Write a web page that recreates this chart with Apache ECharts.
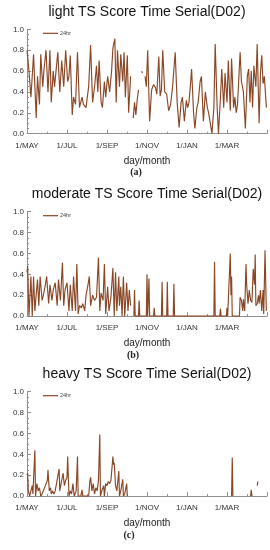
<!DOCTYPE html>
<html>
<head>
<meta charset="utf-8">
<script src="https://cdn.jsdelivr.net/npm/echarts@6/dist/echarts.min.js"></script>
<style>html,body{margin:0;padding:0;background:#fff;}#c{width:270px;height:550px;}</style>
</head>
<body>
<div id="c"></div>
<script>
// ---- data (day index counted from 1 May) ----
const monthLabels = ['1/MAY','1/JUL','1/SEP','1/NOV','1/JAN','1/MAR'];
const panelTitles = ['light TS Score Time Serial(D02)','moderate TS Score Time Serial(D02)','heavy TS Score Time Serial(D02)'];
const panelTags = ['(a)','(b)','(c)'];
const seriesName = '24hr';

const lightDays = [0,3,6,10,14,16,19,21,24,26,29,32,35,37,40,42,45,47,50,53,56,59,62,64,66,69,71,74,77,80,82,84,86,90,94,97,100,103,106,108,110,113,115,118,120,123,126,129,131,134,136,138,141,143,146,148,150,153,155,158,159,162,164,166,168,170,171,175,176,177,180,182,184,187,190,193,196,198,201,203,205,207,210,213,216,219,222,226,229,232,235,237,240,243,245,247,249,251,254,256,259,261,264,266,269,272,275,277,280,282,285,287,290,292,295,297,300,302,305,307,310,312,315,317,319,321,325,327,330,333,336,338,340,342,344,346,349,351,354,356,358,360,362,365];
const lightVals = [0.80,0.60,0.35,0.76,0.15,0.55,0.28,0.76,0.45,0.62,0.80,0.40,0.80,0.30,0.60,0.45,0.65,0.78,0.40,0.70,0.45,0.80,0.50,0.55,0.75,0.18,0.35,0.28,0.78,0.25,0.30,0.35,0.28,0.25,0.45,0.85,0.30,0.45,0.65,0.40,0.70,0.30,0.25,0.50,0.35,0.55,0.40,0.60,0.82,0.91,0.30,0.80,0.45,0.76,0.50,0.78,0.35,0.75,0.20,0.55,null,0.15,0.30,0.18,0.32,0.42,null,0.60,0.58,null,0.55,0.45,0.80,0.12,0.42,0.47,0.44,0.38,0.74,0.36,0.42,0.80,0.40,0.38,0.22,0.28,0.45,0.78,0.30,0.06,0.30,0.35,0.12,0.32,0.25,0.30,0.45,0.62,0.20,0.05,0.25,0.30,0.50,0.55,0.12,0.40,0.25,0.20,0.08,0.00,0.25,0.86,0.25,0.00,0.35,0.62,0.25,0.58,0.30,0.70,0.22,0.72,0.25,0.35,0.20,0.28,0.78,0.50,0.40,0.05,0.55,0.62,0.30,0.60,0.25,0.65,0.45,0.86,0.10,0.58,0.75,0.48,0.55,0.25];

const modDays = [0,1,3,6,8,10,12,15,16,18,20,23,25,28,30,33,35,38,40,43,46,48,51,54,56,58,61,64,66,69,71,74,76,78,80,83,85,88,90,93,95,97,100,103,106,109,111,113,116,118,120,123,125,128,131,133,135,137,140,141,143,145,147,149,152,154,156,158,159,163,164,165,170,171,172,182,183,184,186,187,193,194,195,205,206,207,213,214,215,223,224,225,285,286,287,294,295,296,304,305,306,309,310,311,312,313,324,325,327,329,330,332,334,335,337,339,341,343,345,347,348,349,351,353,354,356,358,360,361,363,365];
const modVals = [0.42,0.48,0.00,0.38,0.00,0.38,0.05,0.28,0.35,0.10,0.38,0.15,0.20,0.30,0.38,0.12,0.30,0.15,0.25,0.32,0.10,0.35,0.15,0.51,0.10,0.25,0.32,0.05,0.30,0.05,0.38,0.05,0.50,0.02,0.10,0.08,0.12,0.05,0.20,0.30,0.38,0.10,0.20,0.15,0.18,0.56,0.05,0.22,0.15,0.50,0.02,0.28,0.05,0.18,0.46,0.00,0.42,0.05,0.38,0.10,0.28,0.00,0.38,0.00,0.32,0.05,0.25,0.10,null,0.00,0.25,0.00,0.00,0.15,0.00,0.00,0.40,0.00,0.36,0.00,0.00,0.08,0.00,0.00,0.33,0.00,0.00,0.33,0.00,0.00,0.31,0.00,0.00,0.52,0.00,0.00,0.07,0.00,0.00,0.08,0.00,0.00,0.60,0.20,0.38,0.00,0.00,0.18,0.15,0.05,0.16,0.05,0.50,0.30,0.12,0.25,0.15,0.13,0.45,0.30,0.59,0.10,0.12,0.20,0.12,0.25,0.05,0.25,0.02,0.63,0.05];

const heavyDays = [0,1,2,4,8,9,12,13,15,17,19,21,23,26,28,31,32,34,36,37,39,41,43,46,49,50,52,55,57,59,61,62,64,66,68,70,72,75,77,78,82,84,85,94,96,97,99,101,103,105,107,109,111,112,114,117,118,120,122,124,126,128,131,132,133,135,137,140,141,143,146,147,149,152,153,154,312,313,314,315,341,342,343,344,351,352];
const heavyVals = [0.20,0.22,0.05,0.00,0.10,0.02,0.44,0.00,0.12,0.05,0.08,0.00,0.02,0.02,0.10,0.15,0.25,0.05,0.08,0.02,0.05,0.02,0.05,0.05,0.26,0.05,0.12,0.22,0.10,0.15,0.18,0.38,0.00,0.05,0.02,0.12,0.00,0.05,0.38,0.00,0.00,0.06,0.00,0.00,0.15,0.18,0.05,0.12,0.02,0.08,0.05,0.15,0.59,0.00,0.05,0.10,0.00,0.12,0.10,0.14,0.12,0.15,0.38,0.30,0.32,0.10,0.05,0.24,0.00,0.05,0.16,0.00,0.02,0.12,0.00,null,0.00,0.37,0.00,null,0.00,0.06,0.00,null,0.10,0.14];

// ---- layout / style ----
const FONT = '"Liberation Sans", Arial, Helvetica, sans-serif';
const LINE = '#8a4726';
const AXIS = '#8f8f8f';
const gridTops = [29.3, 211.7, 391.7];
const gridH = 104.4;
const tagX = [136, 133, 129];
const panels = [[lightDays, lightVals],[modDays, modVals],[heavyDays, heavyVals]];

function pairs(days, vals){ return days.map((d,i)=>[d, vals[i]===null ? '-' : vals[i]]); }

const option = {
  animation: false,
  backgroundColor: '#fff',
  title: [],
  legend: [],
  grid: [], xAxis: [], yAxis: [], series: []
};

panels.forEach((p, i) => {
  const top = gridTops[i];
  option.grid.push({left: 27, right: 3, top: top, height: gridH});
  option.xAxis.push({
    gridIndex: i, type: 'value', min: 0, max: 366, interval: 61,
    axisLine: {show: true, lineStyle: {color: AXIS, width: 1}},
    axisTick: {show: true, inside: true, length: 4, lineStyle: {color: AXIS}},
    minorTick: {show: true, splitNumber: 2, length: 2, lineStyle: {color: AXIS}},
    splitLine: {show: false},
    axisLabel: {showMaxLabel: false, fontSize: 8, color: '#333', margin: 8, fontFamily: FONT,
      formatter: v => monthLabels[Math.round(v / 61)] || ''}
  });
  option.yAxis.push({
    gridIndex: i, type: 'value', min: 0, max: 1, interval: 0.2,
    axisLine: {show: true, lineStyle: {color: AXIS, width: 1}},
    axisTick: {show: true, inside: true, length: 4, lineStyle: {color: AXIS}},
    minorTick: {show: true, splitNumber: 4, length: 2, lineStyle: {color: AXIS}},
    splitLine: {show: false},
    axisLabel: {fontSize: 8, color: '#333', margin: 3, fontFamily: FONT, formatter: v => v.toFixed(1)}
  });
  option.series.push({
    type: 'line', name: seriesName, xAxisIndex: i, yAxisIndex: i,
    data: pairs(p[0], p[1]), symbol: 'none', connectNulls: false,
    lineStyle: {color: LINE, width: 1.15}, itemStyle: {color: LINE}
  });
  option.legend.push({
    data: [{name: seriesName, icon: 'rect'}], left: 43, top: top + 1, itemWidth: 15, itemHeight: 1.2, padding: 0,
    selectedMode: false, textStyle: {fontSize: 5.5, color: '#444', fontFamily: FONT, padding: [0, 0, 0, -3]}
  });
  option.title.push({
    text: panelTitles[i], left: 147, top: top - 24.5, textAlign: 'center', padding: 0,
    textStyle: {fontSize: 14, fontWeight: 'normal', color: '#111', fontFamily: FONT}
  });
  option.title.push({
    text: 'day/month', left: 147, top: top + gridH + 22.5, textAlign: 'center', padding: 0,
    textStyle: {fontSize: 10, fontWeight: 'normal', color: '#222', fontFamily: FONT}
  });
  option.title.push({
    text: panelTags[i], left: tagX[i], top: top + gridH + 34, textAlign: 'center', padding: 0,
    textStyle: {fontSize: 10, fontWeight: 'bold', color: '#222', fontFamily: '"Liberation Serif", "Times New Roman", serif'}
  });
});

const chart = echarts.init(document.getElementById('c'), null, {renderer: 'canvas'});
chart.setOption(option);
</script>
</body>
</html>
